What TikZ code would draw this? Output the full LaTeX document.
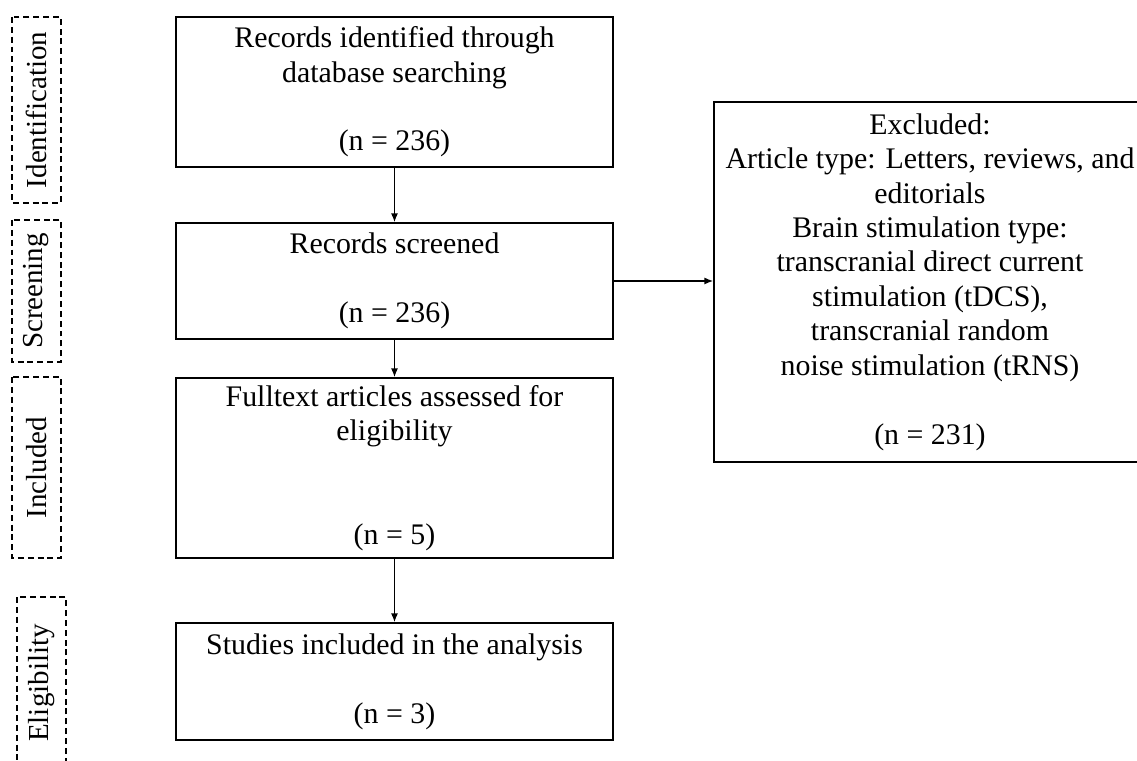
\documentclass[tikz,border=0pt]{standalone}
\usepackage{fontspec}
\setmainfont{Liberation Serif}
\usetikzlibrary{positioning,arrows.meta}

\begin{document}
\begin{tikzpicture}[font=\fontsize{17}{19.6}\selectfont,
  stage/.style={draw, line width=0.9pt, align=center, inner sep=0pt,
    minimum width=8.74cm},
  phase/.style={draw, dash pattern=on 3.4pt off 2.2pt, line width=0.8pt,
    rotate=90, inner sep=0pt, minimum height=0.98cm,
    font=\fontsize{16.5}{19}\selectfont},
  flow/.style={-{Latex[length=5pt,width=4pt]}, line width=0.8pt}]
  \useasboundingbox (0,0) rectangle (22.74,-15.22);

  % phase labels
  \node[phase, minimum width=3.72cm] (lid) at (0.73,-2.2) {Identification};
  \node[phase, minimum width=2.84cm] (lscr) at (0.73,-5.82) {Screening};
  \node[phase, minimum width=3.62cm] (linc) at (0.73,-9.35) {Included};
  \node[phase, minimum width=3.44cm] (lelig) at (0.83,-13.66) {Eligibility};

  % flow boxes
  \node[stage, minimum height=3.0cm] (ident) at (7.89,-1.84)
    {Records identified through\\ database searching\\ ~\\ (n = 236)};
  \node[stage, minimum height=2.32cm] (screen) at (7.89,-5.62)
    {Records screened\\ ~\\ (n = 236)};
  \node[stage, minimum height=3.6cm] (full) at (7.89,-9.36)
    {Fulltext articles assessed for\\ eligibility\\ ~\\ ~\\ (n = 5)};
  \node[stage, minimum height=2.34cm] (studies) at (7.89,-13.63)
    {Studies included in the analysis\\ ~\\ (n = 3)};

  % excluded
  \node[stage, minimum width=8.64cm, minimum height=7.2cm] (excl) at (18.6,-5.64)
    {Excluded:\\ Article type: Letters, reviews, and\\ editorials\\
     Brain stimulation type:\\ transcranial direct current\\
     stimulation (tDCS),\\ transcranial random\\
     noise stimulation (tRNS)\\ ~\\ (n = 231)};

  % arrows
  \draw[flow] (ident) -- (screen);
  \draw[flow] (screen) -- (full);
  \draw[flow] (full) -- (studies);
  \draw[flow] (screen.east) -- (screen.east -| excl.west);
\end{tikzpicture}
\end{document}
